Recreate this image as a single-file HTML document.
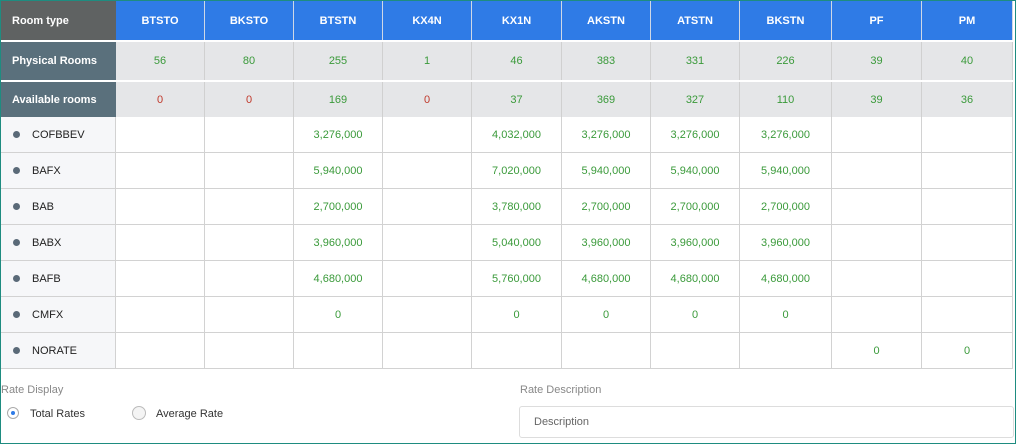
<!DOCTYPE html>
<html><head><style>
*{margin:0;padding:0;box-sizing:border-box}
body{width:1016px;height:444px;background:#fff;font-family:"Liberation Sans",sans-serif;position:relative;overflow:hidden}
.frame{position:absolute;left:0;top:0;width:1016px;height:444px;border:1px solid #1e8c80;border-top:1px solid #1e8c80}
.c{position:absolute;display:flex;align-items:center;justify-content:center;font-size:11px}
.h{background:#2f7be6;color:#fff;font-weight:bold;border-right:1px solid #cfd8e6}
.lh{background:#5f6262;color:#fff;font-weight:bold;justify-content:flex-start;padding-left:11px}
.ls{background:#5a707c;color:#fff;font-weight:bold;justify-content:flex-start;padding-left:11px}
.g{background:#e5e6e8;border-right:1px solid #d0d0d0}
.gr{color:#3a9a3a}.rd{color:#c0392b}
.d{background:#fff;border-right:1px solid #d2d2d2;border-bottom:1px solid #d2d2d2;color:#3a9a3a}
.dl{background:#f6f7f9;justify-content:flex-start;padding-left:12px;color:#222;border-right:1px solid #d2d2d2;border-bottom:1px solid #d2d2d2}
.dot{width:7px;height:7px;border-radius:50%;background:#5a6a78;margin-right:12px}
.t{position:absolute;font-size:11px;color:#888}
</style></head><body>
<div id="tbl"></div>
<div class="t" style="left:1px;top:384px">Rate Display</div>
<div style="position:absolute;left:7px;top:407px;width:12px;height:12px;border:1px solid #aaa;border-radius:50%;background:#fff"><div style="position:absolute;left:3px;top:3px;width:4px;height:4px;border-radius:50%;background:#2f7be6"></div></div>
<div class="t" style="left:30px;top:408px;color:#333">Total Rates</div>
<div style="position:absolute;left:132px;top:406px;width:14px;height:14px;border:1px solid #bbb;border-radius:50%;background:#f4f4f4"></div>
<div class="t" style="left:156px;top:408px;color:#333">Average Rate</div>
<div class="t" style="left:520px;top:384px">Rate Description</div>
<div style="position:absolute;left:519px;top:406px;width:495px;height:32px;border:1px solid #ddd;border-radius:3px"></div>
<div class="t" style="left:534px;top:416px;color:#666">Description</div>
<div class="frame"></div>
<script>
const xs=[1,116,205,294,383,472,562,651,740,832,922,1013];
const heads=["BTSTO","BKSTO","BTSTN","KX4N","KX1N","AKSTN","ATSTN","BKSTN","PF","PM"];
const phys=["56","80","255","1","46","383","331","226","39","40"];
const av=["0","0","169","0","37","369","327","110","39","36"];
const rows=[["COFBBEV",["","","3,276,000","","4,032,000","3,276,000","3,276,000","3,276,000","",""]],
["BAFX",["","","5,940,000","","7,020,000","5,940,000","5,940,000","5,940,000","",""]],
["BAB",["","","2,700,000","","3,780,000","2,700,000","2,700,000","2,700,000","",""]],
["BABX",["","","3,960,000","","5,040,000","3,960,000","3,960,000","3,960,000","",""]],
["BAFB",["","","4,680,000","","5,760,000","4,680,000","4,680,000","4,680,000","",""]],
["CMFX",["","","0","","0","0","0","0","",""]],
["NORATE",["","","","","","","","","0","0"]]];
let h="";
function cell(i,y,hh,cls,txt){h+=`<div class="c ${cls}" style="left:${xs[i]}px;top:${y}px;width:${xs[i+1]-xs[i]}px;height:${hh}px">${txt}</div>`;}
cell(0,1,39,"lh","Room type");
heads.forEach((t,i)=>cell(i+1,1,39,"h",t));
cell(0,42,38,"ls","Physical Rooms");
phys.forEach((t,i)=>cell(i+1,42,38,"g gr",t));
cell(0,82,36,"ls","Available rooms");
av.forEach((t,i)=>cell(i+1,82,36,"g "+(t==="0"&&i<4?"rd":"gr"),t));
rows.forEach((r,k)=>{const y=117+k*36;cell(0,y,36,"dl",'<span class="dot"></span>'+r[0]);r[1].forEach((t,i)=>cell(i+1,y,36,"d",t));});
document.getElementById("tbl").innerHTML=h;
</script>
</body></html>
